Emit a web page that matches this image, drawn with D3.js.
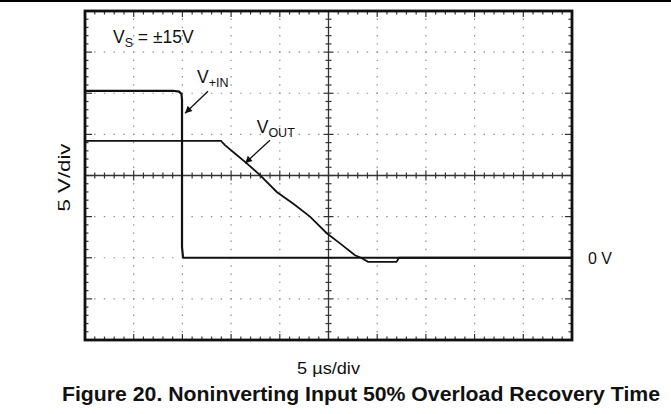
<!DOCTYPE html>
<html>
<head>
<meta charset="utf-8">
<script src="https://cdn.jsdelivr.net/npm/d3@7"></script>
<style>
  body { margin: 0; background: #fff; }
  svg { display: block; font-family: 'Liberation Sans', Arial, sans-serif; }
</style>
</head>
<body>
<div id="chart"></div>
<script>
// trace samples: time in µs, level in V
const vinTime = [0, 9.03, 9.65, 9.91, 9.96, 9.96, 10.06, 10.11, 50]
const vinVolts = [20.3, 20.3, 20.2, 19.9, 19.2, 1.3, 0.1, 0, 0]

const voutTime = [0, 13.96, 14.37, 15.58, 16.43, 17.97, 19.69, 21.46, 23.1, 24.82, 26.18, 27.72, 28.34, 29.06, 31.98, 32.24, 50]
const voutVolts = [14.2, 14.2, 13.7, 12.5, 11.65, 10.05, 8.0, 6.5, 5.0, 2.98, 1.75, 0.3, 0, -0.5, -0.5, 0, 0]

const timeDomain = [0, 50] // 10 div x 5 µs
const voltDomain = [-10, 30] // 8 div x 5 V
const xDivs = 10
const yDivs = 8

const width = 671
const height = 414
const frame = { left: 85, right: 572, top: 11, bottom: 340 }

const svg = d3
  .select('#chart')
  .append('svg')
  .attr('width', width)
  .attr('height', height)

const x = d3.scaleLinear().domain(timeDomain).range([frame.left, frame.right])
const y = d3.scaleLinear().domain(voltDomain).range([frame.bottom, frame.top])

const xStep = (timeDomain[1] - timeDomain[0]) / xDivs
const yStep = (voltDomain[1] - voltDomain[0]) / yDivs
const xMajor = d3.range(0, xDivs + 1).map(i => timeDomain[0] + i * xStep)
const yMajor = d3.range(0, yDivs + 1).map(i => voltDomain[0] + i * yStep)
const xMinor = d3.range(0, xDivs * 5 + 1).map(i => timeDomain[0] + i * xStep / 5)
const yMinor = d3.range(0, yDivs * 5 + 1).map(i => voltDomain[0] + i * yStep / 5)
const xMid = timeDomain[0] + xStep * xDivs / 2
const yMid = voltDomain[0] + yStep * yDivs / 2

// rule across the top of the page
svg.append('line')
  .attr('x1', 0).attr('x2', width)
  .attr('y1', 1).attr('y2', 1)
  .attr('stroke', '#000').attr('stroke-width', 2)

const grid = svg.append('g')

// dotted graticule: a dot at every minor position
const xDot = (x(xStep / 5) - x(0))
const yDot = (y(0) - y(yStep / 5))
grid.selectAll('.hgrid')
  .data(yMajor.slice(1, -1).filter(v => v !== yMid))
  .enter().append('line')
  .attr('x1', frame.left).attr('x2', frame.right)
  .attr('y1', d => y(d)).attr('y2', d => y(d))
  .attr('stroke', '#8a8a8a').attr('stroke-width', 1.2)
  .attr('stroke-dasharray', `1.4 ${xDot - 1.4}`)
  .attr('stroke-dashoffset', 0.7)

grid.selectAll('.vgrid')
  .data(xMajor.slice(1, -1).filter(v => v !== xMid))
  .enter().append('line')
  .attr('x1', d => x(d)).attr('x2', d => x(d))
  .attr('y1', frame.top).attr('y2', frame.bottom)
  .attr('stroke', '#8a8a8a').attr('stroke-width', 1.2)
  .attr('stroke-dasharray', `1.4 ${yDot - 1.4}`)
  .attr('stroke-dashoffset', 0.7)

// centre cross with ticks
grid.append('line')
  .attr('x1', frame.left).attr('x2', frame.right)
  .attr('y1', y(yMid)).attr('y2', y(yMid))
  .attr('stroke', '#333').attr('stroke-width', 1.3)
grid.append('line')
  .attr('x1', x(xMid)).attr('x2', x(xMid))
  .attr('y1', frame.top).attr('y2', frame.bottom)
  .attr('stroke', '#333').attr('stroke-width', 1.3)

grid.selectAll('.hmidtick')
  .data(xMinor)
  .enter().append('line')
  .attr('x1', d => x(d)).attr('x2', d => x(d))
  .attr('y1', (d, i) => y(yMid) - (i % 5 === 0 ? 5 : 3))
  .attr('y2', (d, i) => y(yMid) + (i % 5 === 0 ? 5 : 3))
  .attr('stroke', '#333').attr('stroke-width', 1.2)
grid.selectAll('.vmidtick')
  .data(yMinor)
  .enter().append('line')
  .attr('y1', d => y(d)).attr('y2', d => y(d))
  .attr('x1', (d, i) => x(xMid) - (i % 5 === 0 ? 5 : 3))
  .attr('x2', (d, i) => x(xMid) + (i % 5 === 0 ? 5 : 3))
  .attr('stroke', '#333').attr('stroke-width', 1.2)

// ticks on the inside of the frame
const edgeTicks = svg.append('g').attr('stroke', '#333').attr('stroke-width', 1.2)
xMinor.forEach((d, i) => {
  const len = i % 5 === 0 ? 6 : 3.5
  edgeTicks.append('line').attr('x1', x(d)).attr('x2', x(d))
    .attr('y1', frame.top).attr('y2', frame.top + len)
  edgeTicks.append('line').attr('x1', x(d)).attr('x2', x(d))
    .attr('y1', frame.bottom).attr('y2', frame.bottom - len)
})
yMinor.forEach((d, i) => {
  const len = i % 5 === 0 ? 7 : 3.5
  edgeTicks.append('line').attr('y1', y(d)).attr('y2', y(d))
    .attr('x1', frame.left).attr('x2', frame.left + len)
  edgeTicks.append('line').attr('y1', y(d)).attr('y2', y(d))
    .attr('x1', frame.right).attr('x2', frame.right - len)
})

svg.append('rect')
  .attr('x', frame.left).attr('y', frame.top)
  .attr('width', frame.right - frame.left)
  .attr('height', frame.bottom - frame.top)
  .attr('fill', 'none').attr('stroke', '#111').attr('stroke-width', 2.8)

// traces
const line = d3.line().x(d => x(d[0])).y(d => y(d[1]))

svg.append('path')
  .datum(d3.zip(voutTime, voutVolts))
  .attr('d', line)
  .attr('fill', 'none').attr('stroke', '#111').attr('stroke-width', 1.8)

svg.append('path')
  .datum(d3.zip(vinTime, vinVolts))
  .attr('d', line)
  .attr('fill', 'none').attr('stroke', '#111').attr('stroke-width', 2.2)

// annotations
svg.append('defs').append('marker')
  .attr('id', 'head')
  .attr('viewBox', '0 0 10 10')
  .attr('refX', 10).attr('refY', 5)
  .attr('markerWidth', 9).attr('markerHeight', 7)
  .attr('markerUnits', 'userSpaceOnUse')
  .attr('orient', 'auto')
  .append('path').attr('d', 'M0,0L10,5L0,10Z').attr('fill', '#111')

const arrows = [
  { from: [12.63, 20.25], to: [10.27, 17.57] },
  { from: [18.99, 14.29], to: [16.43, 11.5] }
]
svg.selectAll('.arrow')
  .data(arrows)
  .enter().append('line')
  .attr('x1', d => x(d.from[0])).attr('y1', d => y(d.from[1]))
  .attr('x2', d => x(d.to[0])).attr('y2', d => y(d.to[1]))
  .attr('stroke', '#111').attr('stroke-width', 1.3)
  .attr('marker-end', 'url(#head)')

function label(t, v, main, sub, rest) {
  const txt = svg.append('text')
    .attr('x', x(t)).attr('y', y(v))
    .style('font-size', '17.5px').attr('fill', '#111')
  txt.append('tspan').text(main)
  txt.append('tspan').text(sub).style('font-size', '12.5px').attr('dy', 4)
  if (rest) txt.append('tspan').text(rest).attr('dy', -4)
}
label(2.87, 26.1, 'V', 'S', ' = ±15V')
label(11.5, 21.2, 'V', '+IN')
label(17.63, 15.15, 'V', 'OUT')

svg.append('text')
  .attr('x', 588).attr('y', y(0) + 6.5)
  .attr('textLength', 24).attr('lengthAdjust', 'spacingAndGlyphs')
  .style('font-size', '17px').attr('fill', '#111')
  .text('0 V')

svg.append('text')
  .attr('transform', `translate(70,${(frame.top + frame.bottom) / 2 + 2}) rotate(-90)`)
  .attr('text-anchor', 'middle')
  .attr('textLength', 68).attr('lengthAdjust', 'spacingAndGlyphs')
  .style('font-size', '17px').attr('fill', '#111')
  .text('5 V/div')

svg.append('text')
  .attr('x', x(xMid)).attr('y', 373.5)
  .attr('text-anchor', 'middle')
  .attr('textLength', 63).attr('lengthAdjust', 'spacingAndGlyphs')
  .style('font-size', '16px').attr('fill', '#111')
  .text('5 µs/div')

svg.append('text')
  .attr('x', 361).attr('y', 401)
  .attr('text-anchor', 'middle')
  .attr('textLength', 598).attr('lengthAdjust', 'spacingAndGlyphs')
  .style('font-size', '21px').style('font-weight', 'bold').attr('fill', '#111')
  .text('Figure 20. Noninverting Input 50% Overload Recovery Time')
</script>
</body>
</html>
